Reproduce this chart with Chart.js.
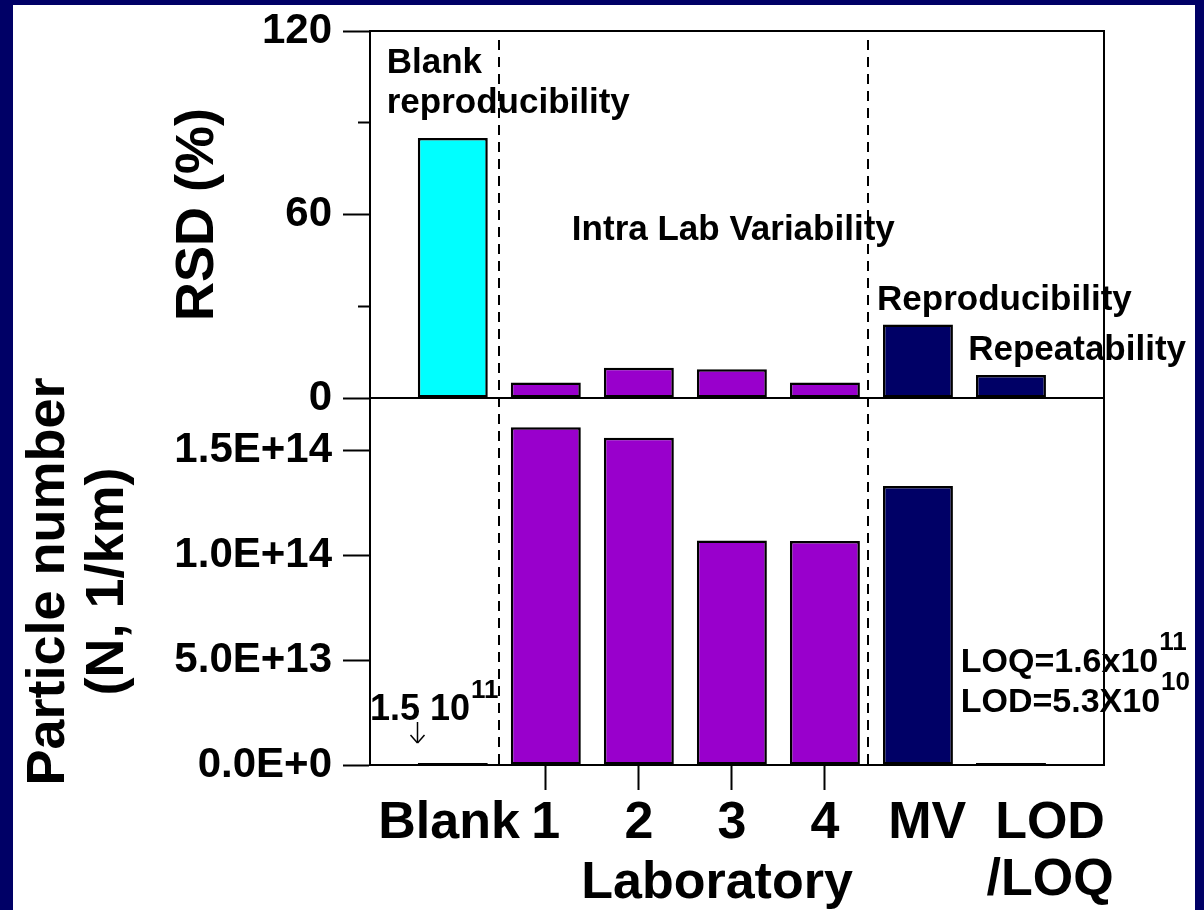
<!DOCTYPE html>
<html>
<head>
<meta charset="utf-8">
<title>RSD and particle number by laboratory</title>
<script src="https://cdn.jsdelivr.net/npm/chart.js@4.4.1/dist/chart.umd.min.js"></script>
<style>
  html, body { margin: 0; padding: 0; background: #000066; }
  #wrap { width: 1204px; height: 910px; position: relative; }
</style>
</head>
<body>
<div id="wrap"><canvas id="pnChart"></canvas></div>
<script>
// bars sit at the index of their category on the x axis
const categories = ['Blank', '1', '2', '3', '4', 'MV', 'LOD/LOQ'];
const xTickLabels = ['Blank', '1', '2', '3', '4', 'MV', ['LOD', '/LOQ']];

// upper panel: relative standard deviation (%)
const rsdValues = [85, 5.1, 9.9, 9.4, 5.1, 24, 7.5];
// lower panel: particle number (N, 1/km)
const pnValues = [1.5e11, 1.61e14, 1.56e14, 1.07e14, 1.068e14, 1.33e14, 1.6e11];

const rsdTicks = [0, 30, 60, 90, 120];
const rsdLabelled = [0, 60, 120];
const pnTicks = [0, 5e13, 1e14, 1.5e14];

const NAVY = '#000066';
const PURPLE = '#9900cc';
const barColors = ['#00ffff', PURPLE, PURPLE, PURPLE, PURPLE, NAVY, NAVY];
const FONT = '"Liberation Sans", Arial, Helvetica, sans-serif';

// nudges for the category labels under the axis (in category units)
const labelShift = [-0.04, 0, 0, 0, 0, 0.1, 0.42];
// dashed lines between the groups of bars
const sectionBreaks = [0.5, 4.46];

// text inside the panels; x in category units, y in the panel's own units
const notes = [
  { text: 'Blank', x: -0.71, y: 106.3, axis: 'yRsd' },
  { text: 'reproducibility', x: -0.71, y: 93.2, axis: 'yRsd' },
  { text: 'Intra Lab Variability', x: 1.28, y: 51.7, axis: 'yRsd' },
  { text: 'Reproducibility', x: 4.56, y: 28.8, axis: 'yRsd' },
  { text: 'Repeatability', x: 5.54, y: 12.4, axis: 'yRsd' }
];
const powerNotes = [
  { text: '1.5 10', sup: '11', x: -0.89, y: 2.14e13, size: 36 },
  { text: 'LOQ=1.6x10', sup: '11', x: 5.46, y: 4.43e13, size: 34 },
  { text: 'LOD=5.3X10', sup: '10', x: 5.46, y: 2.52e13, size: 34 }
];
const blankArrow = { x: -0.385, from: 2.05e13, to: 1.05e13 };

Chart.defaults.font.family = FONT;
Chart.defaults.color = '#000';

function line(ctx, x1, y1, x2, y2) {
  ctx.beginPath();
  ctx.moveTo(x1, y1);
  ctx.lineTo(x2, y2);
  ctx.stroke();
}

// keep the tick labels from pushing the plot area down
function fitLeftAxis(s) {
  s.width = 357;
  s.paddingTop = 0;
  s.paddingBottom = 0;
}

const decorations = {
  id: 'decorations',
  beforeDraw(chart) {
    const { ctx, width, height } = chart;
    ctx.save();
    ctx.fillStyle = NAVY;
    ctx.fillRect(0, 0, width, height);
    ctx.fillStyle = '#fff';
    ctx.fillRect(13, 5, 1182, height - 5);
    ctx.restore();
  },
  afterDatasetsDraw(chart) {
    const { ctx, chartArea: a, scales } = chart;
    ctx.save();
    ctx.strokeStyle = '#000';
    ctx.lineWidth = 2;
    ctx.strokeRect(a.left, a.top, a.right - a.left, a.bottom - a.top);
    const mid = Math.round(scales.yRsd.getPixelForValue(0));
    line(ctx, a.left, mid, a.right, mid);

    ctx.setLineDash([10, 7]);
    sectionBreaks.forEach(v => {
      const px = Math.round(scales.x.getPixelForValue(v));
      line(ctx, px, a.top + 9, px, a.bottom);
    });
    ctx.restore();
  },
  afterDraw(chart) {
    const { ctx, scales } = chart;
    const x = scales.x;
    ctx.save();
    ctx.fillStyle = '#000';
    ctx.textBaseline = 'alphabetic';
    ctx.textAlign = 'left';

    ctx.font = `bold 35px ${FONT}`;
    notes.forEach(n => {
      ctx.fillText(n.text, x.getPixelForValue(n.x), scales[n.axis].getPixelForValue(n.y));
    });

    powerNotes.forEach(n => {
      const px = x.getPixelForValue(n.x);
      const py = scales.yPn.getPixelForValue(n.y);
      ctx.font = `bold ${n.size}px ${FONT}`;
      ctx.fillText(n.text, px, py);
      const w = ctx.measureText(n.text).width;
      ctx.font = `bold 26px ${FONT}`;
      ctx.fillText(n.sup, px + w + 1, py - 22);
    });

    // small arrow under the blank value
    const ax = Math.round(x.getPixelForValue(blankArrow.x)) + 0.5;
    const ay1 = scales.yPn.getPixelForValue(blankArrow.from);
    const ay2 = scales.yPn.getPixelForValue(blankArrow.to);
    ctx.strokeStyle = '#000';
    ctx.lineWidth = 1.5;
    line(ctx, ax, ay1, ax, ay2);
    line(ctx, ax - 7, ay2 - 8, ax, ay2);
    line(ctx, ax + 7, ay2 - 8, ax, ay2);

    ctx.textAlign = 'center';
    ctx.font = `bold 52px ${FONT}`;
    ctx.fillText('Laboratory', x.getPixelForValue(2.84), x.bottom - 12);
    ctx.restore();
  }
};

const barStyle = {
  backgroundColor: barColors,
  borderColor: '#000',
  borderWidth: 2.5,
  borderSkipped: false,
  barPercentage: 0.752,
  categoryPercentage: 1,
  grouped: false
};

new Chart(document.getElementById('pnChart'), {
  type: 'bar',
  data: {
    datasets: [
      {
        label: 'RSD (%)',
        yAxisID: 'yRsd',
        data: rsdValues.map((v, i) => ({ x: i, y: v })),
        ...barStyle
      },
      {
        label: 'Particle number',
        yAxisID: 'yPn',
        data: pnValues.map((v, i) => ({ x: i, y: v })),
        minBarLength: 2,
        ...barStyle
      }
    ]
  },
  options: {
    responsive: true,
    maintainAspectRatio: false,
    animation: false,
    layout: { padding: { left: 13, right: 100, top: 31, bottom: 0 } },
    plugins: { legend: { display: false }, tooltip: { enabled: false } },
    scales: {
      x: {
        type: 'linear',
        min: -0.89,
        max: 7.0,
        offset: false,
        afterBuildTicks: s => { s.ticks = categories.map((c, i) => ({ value: i + labelShift[i] })); },
        afterFit: s => { s.height = 145; },
        ticks: {
          autoSkip: false,
          maxRotation: 0,
          padding: 5,
          font: { size: 52, weight: 'bold', lineHeight: 1.1 },
          callback: (v, i) => xTickLabels[i]
        },
        grid: {
          offset: false,
          drawOnChartArea: false,
          tickLength: 25,
          tickWidth: 2,
          tickColor: c => (c.index >= 1 && c.index <= 4) ? '#000' : 'rgba(0,0,0,0)'
        },
        border: { color: '#000', width: 2 }
      },
      yPn: {
        type: 'linear',
        position: 'left',
        stack: 'panels',
        stackWeight: 1,
        min: 0,
        max: 1.75e14,
        afterBuildTicks: s => { s.ticks = pnTicks.map(v => ({ value: v })); },
        afterFit: fitLeftAxis,
        ticks: {
          padding: 11,
          font: { size: 42, weight: 'bold' },
          callback: v => v.toExponential(1).replace('e', 'E')
        },
        grid: { drawOnChartArea: false, tickLength: 27, tickWidth: 2, tickColor: '#000' },
        border: { color: '#000', width: 2 },
        title: {
          display: true,
          text: ['Particle number', '(N, 1/km)'],
          font: { size: 54, weight: 'bold', lineHeight: 1.1 },
          padding: { top: 6, bottom: 0 }
        }
      },
      yRsd: {
        type: 'linear',
        position: 'left',
        stack: 'panels',
        stackWeight: 1,
        min: 0,
        max: 120,
        afterBuildTicks: s => { s.ticks = rsdTicks.map(v => ({ value: v })); },
        afterFit: fitLeftAxis,
        ticks: {
          padding: 11,
          font: { size: 42, weight: 'bold' },
          callback: v => rsdLabelled.includes(v) ? String(v) : ''
        },
        grid: {
          drawOnChartArea: false,
          tickLength: 27,
          tickWidth: 2,
          tickColor: '#000',
          tickBorderDash: c => (c.tick && !rsdLabelled.includes(c.tick.value)) ? [0, 15, 30] : []
        },
        border: { color: '#000', width: 2 },
        title: {
          display: true,
          text: 'RSD (%)',
          font: { size: 54, weight: 'bold', lineHeight: 1.1 },
          padding: { top: 155, bottom: 0 }
        }
      }
    }
  },
  plugins: [decorations]
});
</script>
</body>
</html>
